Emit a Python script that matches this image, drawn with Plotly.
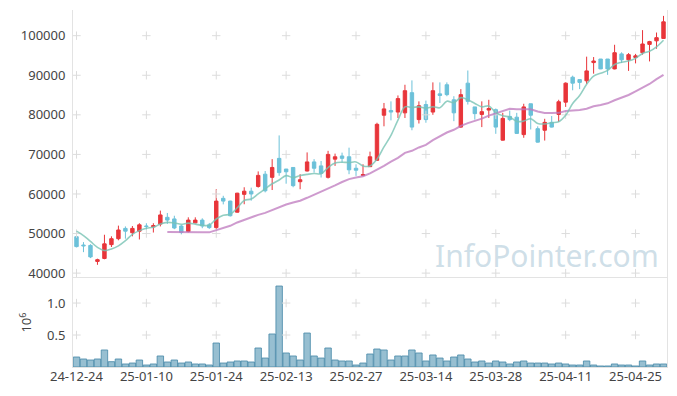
import plotly.graph_objects as go

dates = ["2024-12-24","2024-12-26","2024-12-27","2024-12-30","2025-01-02","2025-01-03",
"2025-01-06","2025-01-07","2025-01-08","2025-01-09","2025-01-10",
"2025-01-13","2025-01-14","2025-01-15","2025-01-16","2025-01-17",
"2025-01-20","2025-01-21","2025-01-22","2025-01-23","2025-01-24",
"2025-01-31","2025-02-03","2025-02-04","2025-02-05","2025-02-06","2025-02-07",
"2025-02-10","2025-02-11","2025-02-12","2025-02-13","2025-02-14",
"2025-02-17","2025-02-18","2025-02-19","2025-02-20","2025-02-21",
"2025-02-24","2025-02-25","2025-02-26","2025-02-27","2025-02-28",
"2025-03-04","2025-03-05","2025-03-06","2025-03-07",
"2025-03-10","2025-03-11","2025-03-12","2025-03-13","2025-03-14",
"2025-03-17","2025-03-18","2025-03-19","2025-03-20","2025-03-21",
"2025-03-24","2025-03-25","2025-03-26","2025-03-27","2025-03-28",
"2025-03-31","2025-04-01","2025-04-02","2025-04-03","2025-04-04",
"2025-04-07","2025-04-08","2025-04-09","2025-04-10","2025-04-11",
"2025-04-14","2025-04-15","2025-04-16","2025-04-17","2025-04-18",
"2025-04-21","2025-04-22","2025-04-23","2025-04-24","2025-04-25",
"2025-04-28","2025-04-29","2025-04-30","2025-05-02"]

open_ = [49200,47100,47000,42950,43700,47200,48700,51300,50200,50600,51900,
51700,52400,54100,53700,51900,50500,52700,53400,52200,51500,
58900,58200,55400,59900,60700,61900,
65000,64200,69000,66300,66700,63100,65800,68100,67100,64200,
68800,69600,69400,66500,64700,66900,68500,79900,81100,
80700,80500,85600,78800,82600,80700,85300,87600,83800,76900,
88000,82000,80100,81200,81300,73600,79600,79400,75000,82800,
76500,76100,78100,80100,83200,89500,88900,88600,93200,94100,
94100,91600,95400,93900,94500,95700,97800,98700,99300]
high = [49300,47830,47300,43650,49700,49300,52000,51800,51900,52600,52600,
52600,55800,55200,54500,52200,54100,54100,53850,52680,61200,
59540,58300,60300,61700,61600,65700,
65800,68800,74800,66300,66700,65000,70500,68800,68340,70900,
70200,70450,71700,67510,67510,70700,78000,83000,83400,
84900,87600,88700,83400,83600,88200,88200,88200,84700,86500,
91200,82000,83400,83800,81600,80500,81080,80500,82800,82800,
77100,79000,79700,83800,88200,89900,88900,94700,94600,94100,
94100,97700,95800,95600,95400,101400,98700,100800,105000]
low = [46500,45300,43800,42100,43500,46600,48300,48700,49300,48500,50920,
50260,51800,52430,51100,49800,50300,52600,51350,51170,51200,
57370,54300,55300,57400,58300,61600,
60400,61000,64600,62600,61700,61200,65700,65400,64160,63900,
67100,67920,65000,64570,64500,66800,68400,77100,78600,
79200,79200,76100,77800,78000,80000,83000,84700,78400,76700,
82600,78800,76900,79200,75200,73500,78390,75200,74200,76300,
73000,73500,76800,78200,82000,86200,86500,87800,90400,91550,
90100,91500,93100,91100,93000,95200,93500,96700,99200]
close = [46700,46900,44100,43400,47400,48700,50900,50600,51300,52200,51800,
52000,54700,53400,51400,50300,53400,53400,51900,51500,58200,
58200,54500,60200,60700,60000,64700,
60800,66700,65400,65600,62100,63600,68100,66500,65200,70000,
69400,69000,66100,66000,64900,69400,77600,81500,80700,
84100,86100,76900,82300,78800,86100,84900,85100,80500,85100,
83400,80300,80800,81600,76900,79100,78800,75300,82000,79900,
73100,78100,76900,83300,88000,88000,88200,91100,93600,91600,
91600,95700,93900,95200,94900,97900,98500,99500,103500]

ma5 = [50600,49500,48000,46500,45700,46100,46900,48200,49780,50740,51360,
51580,52400,52820,52660,52360,52640,52380,52080,52100,53680,
54640,54860,56520,58360,58720,60020,
61280,62580,63520,64640,64120,64680,64960,65180,65100,66680,
67840,68020,67940,68100,67080,67080,68800,71880,74820,
78660,82000,81860,82020,81640,82040,81800,83440,83080,84340,
83800,82880,82020,82240,80600,79740,79440,78340,78420,79020,
77820,77680,78000,78260,79880,82860,84880,87720,89780,90500,
91220,92720,93280,93600,94260,95520,96080,97200,98860]

ma20 = [None]*13 + [50400,50350,50300,50300,50300,50300,50300,50875,
51440,51960,52800,53465,54030,54720,
55230,56000,56660,57350,57855,58300,59035,59790,60535,61365,
62165,63020,63750,64140,64475,65220,66090,67130,68165,
69135,70400,70910,71755,72415,73615,74680,75530,76230,77225,
77895,78440,79030,79805,80350,81060,81530,81415,81440,81400,
80850,80450,80450,80500,80960,81055,81220,81520,82175,82500,
82910,83680,84335,85015,85915,86805,87790,89000,90100]

volume = [156000,125000,109000,125000,266000,83000,125000,47000,62000,109000,31000,
47000,172000,78000,109000,62000,78000,47000,47000,31000,375000,
62000,78000,94000,94000,78000,297000,
140000,516000,1266000,219000,172000,109000,531000,172000,140000,297000,
109000,94000,94000,31000,62000,203000,281000,266000,109000,
172000,172000,266000,219000,94000,188000,140000,94000,156000,188000,
125000,78000,94000,62000,94000,78000,47000,78000,94000,62000,
62000,62000,47000,62000,47000,31000,31000,94000,31000,16000,
16000,47000,31000,31000,16000,94000,31000,47000,47000]

price_ticks = [40000, 50000, 60000, 70000, 80000, 90000, 100000]
vol_ticks = [500000, 1000000]
vol_tick_labels = ["0.5", "1.0"]
x_tick_dates = ["2024-12-24","2025-01-10","2025-01-24","2025-02-13","2025-02-27",
                "2025-03-14","2025-03-28","2025-04-11","2025-04-25"]
x_tick_labels = ["24-12-24","25-01-10","25-01-24","25-02-13","25-02-27",
                 "25-03-14","25-03-28","25-04-11","25-04-25"]

fig = go.Figure()

fig.add_trace(go.Bar(x=dates, y=volume, showlegend=False,
    marker=dict(color="rgba(125,175,198,0.8)", line=dict(color="rgba(75,140,170,0.85)", width=1)),
    xaxis="x", yaxis="y2"))

# grid "+" marks at tick intersections
gx, gy = [], []
for d in x_tick_dates:
    for v in price_ticks:
        gx.append(d); gy.append(v)
fig.add_trace(go.Scatter(x=gx, y=gy, mode="markers", hoverinfo="skip", showlegend=False,
    marker=dict(symbol="cross-thin", size=6, line=dict(color="#dcdcdc", width=1)),
    xaxis="x", yaxis="y"))
vx, vy = [], []
for d in x_tick_dates:
    for v in vol_ticks:
        vx.append(d); vy.append(v)
fig.add_trace(go.Scatter(x=vx, y=vy, mode="markers", hoverinfo="skip", showlegend=False,
    marker=dict(symbol="cross-thin", size=6, line=dict(color="#dcdcdc", width=1)),
    xaxis="x", yaxis="y2"))

fig.add_trace(go.Scatter(x=dates, y=ma20, mode="lines", showlegend=False,
    line=dict(color="rgba(190,120,190,0.75)", width=2), xaxis="x", yaxis="y"))
fig.add_trace(go.Scatter(x=dates, y=ma5, mode="lines", showlegend=False,
    line=dict(color="rgba(120,195,180,0.8)", width=1.6, shape="spline"), xaxis="x", yaxis="y"))

fig.add_trace(go.Candlestick(x=dates, open=open_, high=high, low=low, close=close,
    showlegend=False, whiskerwidth=0,
    increasing=dict(line=dict(color="#e8353a", width=1), fillcolor="#e8353a"),
    decreasing=dict(line=dict(color="#6cc1d9", width=1), fillcolor="#6cc1d9"),
    xaxis="x", yaxis="y"))

axis_line = "#e3e3e3"
fig.update_layout(
    width=677, height=396,
    margin=dict(l=73, r=10, t=10, b=29, autoexpand=False),
    paper_bgcolor="white", plot_bgcolor="white",
    font=dict(family="Noto Sans", size=13, color="#444"),
    bargap=0.08,
    xaxis=dict(type="category", categoryorder="array", categoryarray=dates,
               range=[-0.5, 84.5], anchor="y2", automargin=False,
               tickvals=x_tick_dates, ticktext=x_tick_labels, tickangle=0,
               ticklabelstandoff=-3,
               showgrid=False, showline=True, linecolor=axis_line, mirror=True,
               ticks="", rangeslider=dict(visible=False), tickfont=dict(size=13, color="#444")),
    yaxis=dict(domain=[0.249, 1], range=[38740, 106490], tickvals=price_ticks,
               tickformat="d", automargin=False,
               showgrid=False, zeroline=False, showline=True, linecolor=axis_line,
               mirror=True, ticks="", ticklabelstandoff=4, tickfont=dict(size=13, color="#444")),
    yaxis2=dict(domain=[0, 0.249], range=[0, 1390000], tickvals=vol_ticks, automargin=False,
                ticktext=vol_tick_labels, showgrid=False, zeroline=False, showline=True,
                linecolor=axis_line, mirror=True, ticks="", ticklabelstandoff=4,
                title=dict(text="10<sup>6</sup>", standoff=12, font=dict(size=13, color="#444")),
                tickfont=dict(size=13, color="#444")),
    annotations=[dict(text="InfoPointer.com", xref="paper", yref="paper",
                      x=0.99, y=0.25, xanchor="right", yanchor="bottom", showarrow=False,
                      font=dict(family="Noto Sans", size=30, color="rgba(165,195,212,0.55)"))],
)

fig.write_html("out.html", config={"displayModeBar": False},
               post_script="document.body.style.margin='0';")
